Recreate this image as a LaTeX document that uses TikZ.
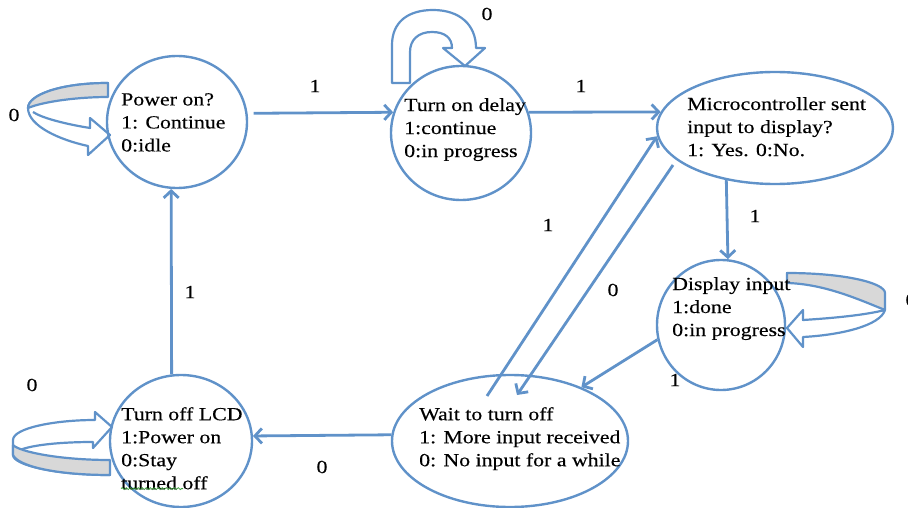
\documentclass[tikz,border=0pt]{standalone}
\usepackage{fontspec}
\setmainfont{Liberation Serif}[FakeStretch=1.18,FakeBold=0.3]
\usetikzlibrary{arrows.meta,calc,decorations.pathmorphing,shapes.geometric}
\definecolor{lineblue}{RGB}{96,146,201}
\definecolor{bandgray}{RGB}{216,216,216}
\definecolor{squiggle}{RGB}{60,160,60}

\begin{document}
\begin{tikzpicture}[x=1pt,y=-1pt,
  state/.style={ellipse, draw=lineblue, line width=2.4pt, inner sep=0pt},
  txt/.style={anchor=north west, align=left, inner sep=0pt, font=\fontsize{18.5}{23}\selectfont},
  lbl/.style={inner sep=0pt, font=\fontsize{18.5}{23}\selectfont},
  edge/.style={draw=lineblue, line width=2.8pt, -{Straight Barb[length=7pt,width=15pt]}},
  loopout/.style={draw=lineblue, line width=2.2pt, fill=white, line join=round},
  loopface/.style={draw=lineblue, line width=2.2pt, fill=bandgray, line join=round},
]
\useasboundingbox (0,0) rectangle (908,508);

% self-loop of "Power on?"
\draw[loopout] (108,83) .. controls (60,83) and (28,95) .. (28,108)
  .. controls (28,126) and (60,140) .. (88,146) -- (88,155) -- (110,135)
  -- (90,118) -- (90,128) .. controls (65,124) and (42,118) .. (33,112);
\draw[loopface] (108,83) .. controls (60,83) and (28,95) .. (28,108)
  .. controls (45,101) and (80,97) .. (108,97) -- cycle;

% self-loop of "Turn on delay"
\draw[loopout] (392,83) -- (392,45) .. controls (392,22) and (408,10) .. (433,10)
  .. controls (460,10) and (476,25) .. (476,48) -- (485,48) -- (465,66)
  -- (443,48) -- (452,48) .. controls (452,38) and (445,32) .. (432,32)
  .. controls (418,32) and (410,40) .. (410,52) -- (410,83) -- cycle;

% self-loop of "Display input"
\draw[loopout] (885,310) .. controls (880,326) and (840,335) .. (803,337)
  -- (803,347) -- (787,328) -- (803,310) -- (803,320)
  .. controls (835,318) and (865,315) .. (885,310);
\draw[loopface] (787,273) .. controls (845,273) and (885,283) .. (885,293)
  -- (885,310) .. controls (860,300) and (825,284) .. (787,283) -- cycle;

% self-loop of "Turn off LCD"
\draw[loopout] (110,475) .. controls (55,475) and (13,465) .. (13,455) -- (13,440)
  .. controls (13,428) and (55,420) .. (95,420) -- (95,412) -- (112,427)
  -- (93,448) -- (93,442) .. controls (60,442) and (32,445) .. (20,450);
\draw[loopface] (110,460) .. controls (60,460) and (20,452) .. (13,445) -- (13,455)
  .. controls (18,466) and (55,475) .. (110,475) -- cycle;

% states
\node[state, minimum width=140pt, minimum height=132pt] (pw) at (177,122) {};
\node[state, minimum width=140pt, minimum height=134pt] (dl) at (461,133) {};
\node[state, minimum width=236pt, minimum height=112pt] (mc) at (775,128) {};
\node[state, minimum width=128pt, minimum height=130pt] (di) at (721,325) {};
\node[state, minimum width=236pt, minimum height=132pt] (wt) at (510,441) {};
\node[state, minimum width=142pt, minimum height=132pt] (tl) at (181,441) {};

% state texts
\node[txt] (pwt) at (121,93) {Power on?\\1: Continue\\0:idle};
\node[txt] (dlt) at (404,98) {Turn on delay\\1:continue\\0:in progress};
\node[txt] (mct) at (687,97) {Microcontroller sent\\input to display?\\1: Yes. 0:No.};
\node[txt] (dit) at (672,277) {Display input\\1:done\\0:in progress};
\node[txt] (wtt) at (419,407) {Wait to turn off\\1: More input received\\0: No input for a while};
\node[txt] (tlt) at (121,407) {Turn off LCD\\1:Power on\\0:Stay\\turned off};
\draw[squiggle, line width=0.8pt, decorate,
  decoration={snake, amplitude=1pt, segment length=4pt}]
  ($(tlt.south west)+(0,-1)$) -- ++(62,0);

% transitions
\draw[edge, shorten <=6pt] (pw.7) -- (dl.163);
\draw[edge] (dl.17) -- (mc.172.5);
\draw[edge] (mc.227) -- (di.84);
\draw[edge] (di.193) -- (wt.37);
\draw[edge] (wt.177) -- (tl.4);
\draw[edge] (tl.98) -- (pw.265);
\draw[edge] ($(wt.center)+(-23,-45)$) -- (mc.184);
\draw[edge] ($(mc.center)+(-102,37)$) -- ($(wt.center)+(7,-46)$);

% transition labels
\node[lbl] (l1) at (315,86) {1};
\node[lbl] (l2) at (581,86) {1};
\node[lbl] (l3) at (487,14) {0};
\node[lbl] (l4) at (14,115) {0};
\node[lbl] (l5) at (755,216) {1};
\node[lbl] (l6) at (548,225) {1};
\node[lbl] (l7) at (613,290) {0};
\node[lbl] (l8) at (190,292) {1};
\node[lbl] (l9) at (675,380) {1};
\node[lbl] (l10) at (322,467) {0};
\node[lbl] (l11) at (32,385) {0};
\node[lbl] (l12) at (911,300) {0};
\end{tikzpicture}
\end{document}
